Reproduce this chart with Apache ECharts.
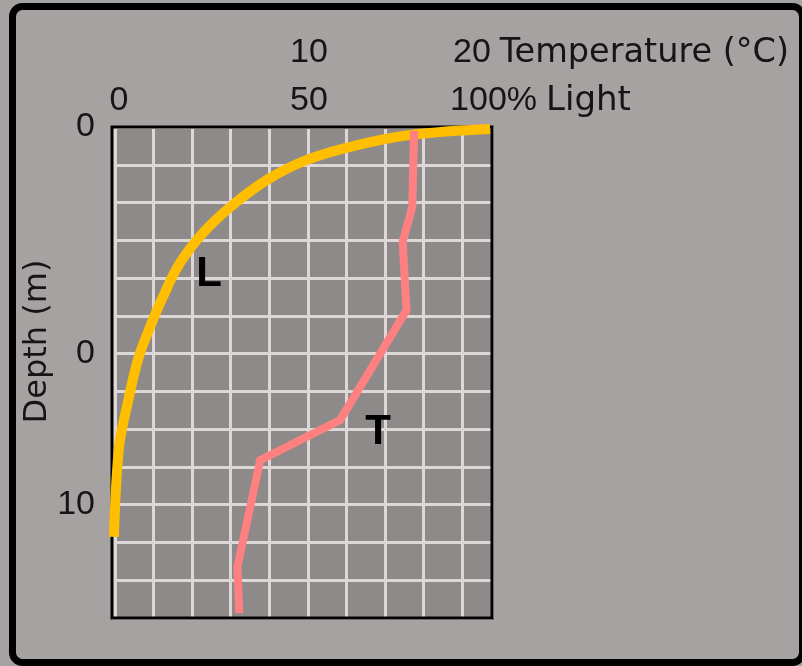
<!DOCTYPE html>
<html>
<head>
<meta charset="utf-8">
<script src="https://cdn.jsdelivr.net/npm/echarts@6/dist/echarts.min.js"></script>
<style>
html,body{margin:0;padding:0;background:#a5a2a1;}
#chart{width:802px;height:666px;}
</style>
</head>
<body>
<div id="chart"></div>
<script>
// ---- data ----
const lightTicks = [0, 50, 100];
const lightTickLabels = ['0', '50', '100%'];
const lightAxisTitle = 'Light';
const tempTicks = [10, 20];
const tempTickLabels = ['10', '20'];
const tempAxisTitle = 'Temperature (°C)';
const depthTicks = [0, 6, 10];
const depthTickLabels = ['0', '0', '10'];
const depthAxisTitle = 'Depth (m)';

// Light (%) profile vs depth (m)
const lightPercent = [99.5, 78.4, 64.5, 51.3, 40.8, 31.1, 23.9, 17.9, 13.4, 10.0, 6.8, 3.9, 2.1, 1.3, 0.8, 0.5];
const lightDepth   = [0.05, 0.21, 0.48, 0.87, 1.40, 2.12, 2.81, 3.60, 4.50, 5.30, 6.17, 7.41, 8.29, 9.16, 10.06, 10.85];

// Temperature (°C) profile vs depth (m)
const tempC     = [15.9, 15.8, 15.3, 15.5, 12.0, 7.8, 6.6, 6.7];
const tempDepth = [0.1, 2.12, 3.04, 4.85, 7.76, 8.82, 11.65, 12.87];

const seriesNames = ['L', 'T'];

// ---- chart ----
const FONT = '"Liberation Sans", Arial, Helvetica, sans-serif';
const WIDE = '"DejaVu Sans", Verdana, sans-serif';
const LABEL_SIZE = 34;
const TXT = '#161414';

function pairs(xs, ys) { return xs.map((x, i) => [x, ys[i]]); }

function tickFormatter(ticks, labels, title) {
  return function (v) {
    const i = ticks.indexOf(v);
    if (i < 0) return '';
    if (i === ticks.length - 1) return '{e|' + labels[i] + '}{w|' + title + '}';
    return '{n|' + labels[i] + '}';
  };
}

const chart = echarts.init(document.getElementById('chart'), null, { renderer: 'canvas' });

const gridLine = { show: true, lineStyle: { color: '#ddd8d7', width: 3 } };

function richFor(endPad, gap, wordSize) {
  return {
    n: { fontFamily: FONT, fontSize: LABEL_SIZE, color: TXT, padding: [0, 0, 0, 14] },
    e: { fontFamily: FONT, fontSize: LABEL_SIZE, color: TXT, padding: [0, 0, 0, endPad] },
    w: { fontFamily: WIDE, fontSize: wordSize, color: TXT, padding: [0, 0, 0, gap] }
  };
}

chart.setOption({
  backgroundColor: '#a5a2a1',
  animation: false,
  grid: {
    left: 112, right: 310, top: 127, bottom: 48,
    show: true, backgroundColor: '#8f8a8a', borderWidth: 0
  },
  xAxis: [
    { // Light (%)
      type: 'value', position: 'top', min: 0, max: 100, interval: 50,
      axisLine: { show: false }, axisTick: { show: false }, splitLine: { show: false },
      axisLabel: {
        margin: 9, showMinLabel: true, showMaxLabel: true,
        formatter: tickFormatter(lightTicks, lightTickLabels, lightAxisTitle),
        rich: richFor(97, 9, 34)
      }
    },
    { // Temperature (°C)
      type: 'value', position: 'top', offset: 48, min: 0, max: 20, interval: 10,
      axisLine: { show: false }, axisTick: { show: false }, splitLine: { show: false },
      axisLabel: {
        margin: 9, showMinLabel: true, showMaxLabel: true,
        formatter: tickFormatter(tempTicks, tempTickLabels, tempAxisTitle),
        rich: richFor(258, 9, 33.5)
      }
    },
    { // grid paper columns (no labels)
      type: 'value', position: 'bottom', min: -0.075, max: 9.77, splitNumber: 10,
      axisLine: { show: false }, axisTick: { show: false }, axisLabel: { show: false },
      splitLine: gridLine
    }
  ],
  yAxis: [
    {
      type: 'value', inverse: true, min: 0, max: 13, interval: 1,
      name: depthAxisTitle, nameLocation: 'middle', nameRotate: 90, nameGap: 44,
      nameTextStyle: { fontFamily: WIDE, fontSize: 32, color: TXT, padding: [0, 0, 0, 62] },
      axisLine: { show: false }, axisTick: { show: false },
      splitLine: gridLine,
      axisLabel: {
        margin: 17, fontFamily: FONT, fontSize: LABEL_SIZE, color: TXT,
        showMinLabel: true, showMaxLabel: false,
        formatter: function (v) {
          const i = depthTicks.indexOf(v);
          return i < 0 ? '' : depthTickLabels[i];
        }
      }
    }
  ],
  series: [
    {
      name: seriesNames[0], type: 'line', xAxisIndex: 0, yAxisIndex: 0,
      data: pairs(lightPercent, lightDepth),
      smooth: 0.4, showSymbol: false, symbol: 'none',
      lineStyle: { color: '#ffbf00', width: 10, cap: 'butt' },
      z: 3
    },
    {
      name: seriesNames[1], type: 'line', xAxisIndex: 1, yAxisIndex: 0,
      data: pairs(tempC, tempDepth),
      smooth: false, showSymbol: false, symbol: 'none',
      lineStyle: { color: '#ff8080', width: 8, cap: 'butt', join: 'miter' },
      z: 4
    }
  ],
  graphic: [
    { // plot frame
      type: 'rect', silent: true, z: 2,
      shape: { x: 112, y: 127, width: 380, height: 491 },
      style: { fill: 'none', stroke: '#000', lineWidth: 3 }
    },
    { // photo frame
      type: 'rect', silent: true, z: 100,
      shape: { x: 12.5, y: 6.5, width: 790, height: 656, r: 10 },
      style: { fill: 'none', stroke: '#000', lineWidth: 7 }
    },
    {
      type: 'text', z: 50, x: 209, y: 274,
      style: { text: seriesNames[0], font: 'bold 42px ' + FONT, fill: '#000', align: 'center', verticalAlign: 'middle' }
    },
    {
      type: 'text', z: 50, x: 378, y: 432,
      style: { text: seriesNames[1], font: 'bold 42px ' + FONT, fill: '#000', align: 'center', verticalAlign: 'middle' }
    }
  ]
});
</script>
</body>
</html>
